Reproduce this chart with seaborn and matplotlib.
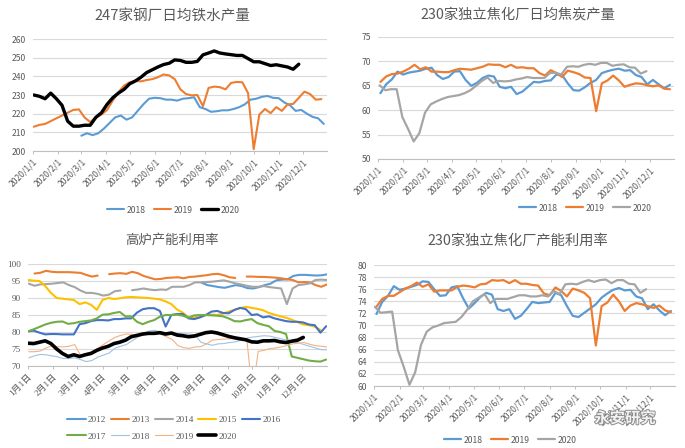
import matplotlib

# 无显示环境，只输出 PNG
matplotlib.use("Agg")

import matplotlib.pyplot as plt  # noqa: E402
import matplotlib.patheffects as pe  # noqa: E402
from matplotlib.lines import Line2D  # noqa: E402
import numpy as np  # noqa: E402
import pandas as pd  # noqa: E402
import seaborn as sns  # noqa: E402

nan = np.nan

# ---------------- 数据（周度，按 2020 年日历对齐） ----------------
iron_title = "247家钢厂日均铁水产量"
iron_2018_start = "2020-03-01"
iron_2018 = [208.2, 209.5, 208.5, 209.5, 212.0, 215.0, 218.0, 219.0, 216.8, 218.0,
             221.5, 225.0, 228.0, 228.5, 228.3, 227.5, 227.5, 227.0, 228.0, 228.3,
             228.8, 223.5, 222.5, 221.0, 221.3, 221.8, 221.8, 222.5, 223.5, 225.0,
             227.5, 228.0, 229.0, 229.5, 228.5, 228.3, 226.0, 224.5, 221.5, 222.0,
             220.0, 218.3, 217.5, 214.5]
iron_2019_start = "2020-01-02"
iron_2019 = [213.0, 214.0, 214.5, 216.0, 217.5, 219.0, 220.5, 222.0, 222.3, 218.0,
             215.5, 218.0, 219.5, 222.0, 227.0, 231.5, 235.0, 236.8, 237.5, 237.3,
             238.0, 238.5, 239.5, 241.0, 240.5, 238.5, 233.0, 230.5, 229.8, 230.0,
             224.0, 233.8, 234.5, 234.2, 233.0, 236.5, 237.0, 236.8, 231.0, 201.0,
             219.5, 222.5, 220.3, 223.5, 221.5, 225.0, 225.2, 228.5, 231.8, 230.5,
             227.5, 227.8]
iron_2020_start = "2020-01-02"
iron_2020 = [230.0, 229.3, 228.0, 231.0, 228.0, 224.5, 216.0, 213.3, 213.3, 213.8,
             213.8, 218.0, 220.5, 225.0, 228.5, 231.0, 233.0, 236.0, 237.5, 239.5,
             242.0, 243.5, 245.0, 246.3, 247.0, 248.8, 248.5, 247.5, 247.5, 248.0,
             251.5, 252.5, 253.6, 252.5, 252.0, 251.6, 251.2, 251.2, 249.5, 247.8,
             247.8, 246.8, 245.8, 246.2, 245.6, 245.0, 243.8, 246.5]

coke_title = "230家独立焦化厂日均焦炭产量"
coke_2018_start = "2020-01-04"
coke_2018 = [63.5, 65.3, 66.3, 67.9, 67.3, 67.7, 67.9, 68.1, 68.5, 68.7,
             67.2, 66.4, 66.8, 67.9, 68.0, 66.2, 65.0, 65.6, 66.6, 67.1,
             66.9, 64.8, 64.5, 64.8, 63.3, 63.8, 64.8, 65.8, 65.7, 66.0,
             66.1, 67.3, 67.2, 65.5, 64.1, 64.0, 64.7, 65.6, 66.2, 67.6,
             68.0, 68.3, 68.5, 68.1, 68.2, 67.2, 66.8, 65.3, 66.2, 65.3,
             64.5, 65.2]
coke_2019_start = "2020-01-04"
coke_2019 = [65.8, 66.9, 67.4, 67.5, 67.9, 68.5, 69.3, 68.4, 68.8, 67.9,
             67.9, 67.8, 67.8, 68.2, 68.5, 68.4, 68.3, 68.6, 68.9, 69.4,
             69.3, 69.3, 68.8, 69.3, 68.7, 68.8, 68.6, 68.6, 67.6, 67.1,
             68.2, 67.6, 66.8, 68.1, 67.8, 67.4, 66.7, 66.6, 59.8, 65.5,
             66.1, 67.1, 66.1, 64.8, 65.2, 65.5, 65.4, 65.1, 64.9, 65.1,
             64.4, 64.3]
coke_2020_start = "2020-01-03"
coke_2020 = [65.1, 64.1, 64.3, 64.3, 58.6, 56.2, 53.6, 55.3, 59.5, 61.2,
             61.8, 62.3, 62.7, 62.9, 63.1, 63.5, 64.1, 65.0, 66.0, 66.7,
             65.6, 66.0, 65.9, 66.0, 66.3, 66.5, 66.8, 66.6, 66.6, 66.6,
             67.6, 67.7, 67.3, 68.9, 69.0, 68.9, 69.3, 69.5, 69.3, 69.7,
             69.7, 69.1, 69.3, 69.4, 68.8, 68.7, 67.5, 68.0]

bf_title = "高炉产能利用率"
bf_years = ["2012", "2013", "2014", "2015", "2016", "2017", "2018", "2019", "2020"]
bf_starts = ["2020-07-31", "2020-01-09", "2020-01-02", "2020-01-01", "2020-01-01",
             "2020-01-01", "2020-01-02", "2020-01-02", "2020-01-01"]
bf_2012 = [94.5, 93.8, 93.5, 93.2, 93.0, 93.4, 93.8, 93.5, 92.9, 92.8,
           93.2, 93.8, 94.2, 95.2, 95.4, 95.5, 96.5, 96.8, 96.8, 96.7,
           96.6, 96.7, 97.0]
bf_2013 = [97.2, 97.4, 98.0, 97.7, 97.6, 97.6, 97.6, 97.5, 97.4, 96.8,
           96.3, 96.6, nan, 97.0, 97.2, 97.3, 97.1, 97.7, 97.3, 96.5,
           96.0, 95.5, 95.6, 95.9, 96.0, 96.1, 95.8, 96.2, 96.3, 96.5,
           96.7, 97.0, 97.1, 96.7, 96.1, 95.9, nan, 96.3, 96.3, 96.2,
           96.2, 96.1, 96.0, 95.8, 95.5, 95.3, 94.6, 94.7, 94.6, 93.8,
           93.3, 94.0]
bf_2014 = [94.2, 93.6, 94.0, 94.1, 94.2, 94.4, 94.6, 93.8, 93.2, 92.2,
           91.5, 91.5, 91.2, 90.7, 91.0, 92.0, 92.2, nan, 92.3, 92.5,
           92.8, 92.5, 92.3, 92.5, 92.4, 93.3, 93.3, 93.3, 93.8, 94.6,
           94.6, 94.7, 94.8, 95.0, 95.2, 94.8, 94.3, 94.0, 93.6, 93.3,
           93.3, 93.5, 93.2, 93.0, 92.8, 88.2, 92.8, 93.8, 94.0, 94.3,
           95.3, 95.4, 95.3]
bf_2015 = [95.3, 95.1, 95.0, 93.5, 91.5, 90.0, 89.8, 89.6, 89.4, 88.2,
           88.7, 88.0, 86.5, 89.4, 90.0, 89.7, 89.9, 90.2, 90.3, 90.2,
           90.1, 90.0, 89.8, 89.6, 89.0, 88.2, 86.6, 85.7, 84.3, 84.2,
           84.8, 85.0, 85.1, 85.0, 85.4, 86.0, 86.5, 87.0, 87.4, 87.1,
           86.8, 86.4, 85.6, 85.1, 84.6, 84.2, 83.6, 82.9, 82.2, 82.0,
           81.6, 80.6]
bf_2016 = [80.2, 80.4, 79.8, 79.3, 79.4, 79.4, 79.3, 79.3, 79.3, 82.3,
           82.6, 83.2, 83.5, 83.5, 83.4, 83.8, 83.8, 84.0, 84.0, 85.7,
           86.7, 87.0, 87.0, 86.2, 81.6, 85.0, 85.3, 85.3, 84.0, 83.8,
           84.3, 85.0, 86.0, 86.2, 85.6, 85.5, 86.5, 87.1, 86.7, 85.0,
           85.2, 84.3, 84.6, 84.0, 83.6, 83.2, 83.0, 83.0, 82.8, 82.2,
           82.0, 79.8, 81.7]
bf_2017 = [80.2, 80.8, 81.5, 82.2, 82.7, 83.0, 83.1, 82.4, 82.6, 83.0,
           83.2, 83.4, 84.0, 85.1, 85.2, 85.6, 85.9, 84.6, 84.6, 83.0,
           82.3, 83.0, 83.5, 84.5, 85.0, 85.0, 85.1, 84.8, 84.2, 84.9,
           85.0, 85.0, 84.9, 84.8, 84.6, 84.0, 83.2, 83.1, 83.5, 83.8,
           82.6, 82.1, 81.7, 80.3, 80.0, 79.4, 72.8, 72.4, 72.0, 71.6,
           71.4, 71.3, 71.9]
bf_2018 = [72.4, 73.0, 73.4, 73.3, 73.0, 72.7, 72.2, 72.2, 72.4, 71.9,
           71.3, 71.6, 72.6, 73.2, 73.8, 75.2, 75.8, 76.3, 77.4, 78.5,
           79.6, 80.3, 80.5, 79.9, 79.8, 79.8, 79.6, 79.5, 79.4, 79.2,
           77.0, 76.5, 76.1, 76.5, 76.6, 76.9, 77.1, 77.6, 78.2, 78.5,
           78.7, 78.9, 78.8, 78.4, 78.0, 77.6, 77.2, 76.8, 76.3, 75.8,
           75.3, 74.8, 74.8]
bf_2019 = [74.2, 74.2, 74.4, 75.3, 75.9, 75.7, 75.6, 75.8, 76.3, 73.2,
           73.6, 74.2, 75.2, 76.3, 77.4, 78.4, 79.0, 79.4, 79.3, 78.6,
           79.2, 79.6, 80.0, 79.4, 78.6, 77.8, 76.0, 75.4, 75.2, 75.6,
           75.7, 76.5, 77.6, 77.8, 77.9, 78.0, 78.1, 78.1, 78.0, 62.0,
           74.3, 74.6, 75.1, 75.3, 75.6, 76.0, 76.5, 76.7, 76.9, 76.4,
           76.0, 75.8, 75.6]
bf_2020 = [76.7, 76.6, 77.0, 77.4, 76.6, 75.0, 73.7, 72.8, 73.3, 72.8,
           73.3, 73.7, 74.6, 75.3, 75.8, 76.6, 77.0, 77.6, 78.6, 79.0,
           79.4, 79.6, 79.6, 79.8, 79.4, 79.7, 79.1, 78.9, 78.6, 78.8,
           79.3, 79.8, 80.0, 79.7, 79.2, 78.7, 78.3, 78.0, 77.7, 77.1,
           77.0, 77.4, 77.4, 77.5, 77.1, 76.9, 77.3, 77.6, 78.4]
bf_values = [bf_2012, bf_2013, bf_2014, bf_2015, bf_2016, bf_2017, bf_2018, bf_2019, bf_2020]

cu_title = "230家独立焦化厂产能利用率"
cu_2018_start = "2020-01-04"
cu_2018 = [71.9, 73.9, 74.9, 76.5, 75.9, 76.1, 76.4, 76.7, 77.3, 77.2,
           76.0, 74.9, 75.0, 76.3, 76.5, 74.5, 72.8, 73.7, 74.7, 75.4,
           75.1, 72.7, 72.4, 72.7, 71.1, 71.6, 72.7, 73.9, 73.7, 73.8,
           73.9, 75.4, 75.0, 73.2, 71.6, 71.4, 72.1, 72.8, 73.5, 74.6,
           75.3, 75.9, 76.2, 75.8, 75.9, 74.8, 74.5, 72.7, 73.5, 72.5,
           71.7, 72.4]
cu_2019_start = "2020-01-04"
cu_2019 = [73.1, 74.4, 74.9, 74.9, 75.5, 76.1, 76.5, 77.1, 76.4, 76.8,
           75.6, 75.8, 75.8, 75.8, 76.4, 76.6, 76.5, 76.3, 76.8, 76.9,
           77.5, 77.4, 77.5, 77.0, 77.5, 76.9, 76.9, 76.7, 76.6, 75.3,
           75.0, 76.3, 75.7, 74.8, 76.1, 75.8, 75.4, 74.5, 66.7, 73.2,
           73.8, 75.1, 74.0, 72.4, 73.3, 73.7, 73.5, 73.2, 72.9, 73.3,
           72.5, 72.2]
cu_2020_start = "2020-01-02"
cu_2020 = [73.1, 72.1, 72.2, 72.3, 65.9, 63.2, 60.2, 62.3, 66.8, 69.0,
           69.7, 70.0, 70.4, 70.5, 70.6, 71.4, 72.6, 74.0, 74.6, 75.2,
           73.7, 74.4, 74.4, 74.4, 74.7, 75.0, 75.0, 74.8, 74.8, 75.0,
           74.8, 75.7, 75.2, 76.8, 76.9, 76.8, 77.2, 77.5, 77.2, 77.5,
           77.6, 77.0, 77.5, 77.5, 76.9, 76.8, 75.4, 76.0]

# 刻度标签
date_labels = ["2020/1/1", "2020/2/1", "2020/3/1", "2020/4/1", "2020/5/1", "2020/6/1",
               "2020/7/1", "2020/8/1", "2020/9/1", "2020/10/1", "2020/11/1", "2020/12/1"]
cn_labels = ["1月1日", "2月1日", "3月1日", "4月1日", "5月1日", "6月1日",
             "7月1日", "8月1日", "9月1日", "10月1日", "11月1日", "12月1日"]
iron_yticks = [200, 210, 220, 230, 240, 250, 260]
coke_yticks = [50, 55, 60, 65, 70, 75]
bf_yticks = [70, 75, 80, 85, 90, 95, 100]
cu_yticks = [60, 62, 64, 66, 68, 70, 72, 74, 76, 78, 80]

# ---------------- 样式 ----------------
BLUE, ORANGE, GRAY = "#5B9BD5", "#ED7D31", "#A5A5A5"
bf_colors = ["#5B9BD5", "#ED7D31", "#A5A5A5", "#FFC000", "#4472C4",
             "#70AD47", "#9DC3E6", "#F4B183", "#000000"]
bf_widths = [1.5, 1.5, 1.5, 1.5, 1.5, 1.5, 0.8, 0.8, 2.6]
TEXT = "#595959"
SANS = ["Noto Sans CJK SC", "DejaVu Sans"]
SERIF = ["Liberation Serif", "Noto Sans CJK SC"]
SANS_SIZE = 6.2
SERIF_SIZE = 6.6

sns.set_theme(style="white")
plt.rcParams["font.family"] = SANS
plt.rcParams["axes.unicode_minus"] = False

AX_START = pd.Timestamp("2020-01-01")
AX_END = pd.Timestamp("2020-12-31")
month_ticks = pd.date_range("2020-01-01", periods=12, freq="MS")


def draw(ax, start, values, color, lw):
    # 周度序列；NaN 处断线
    df = pd.DataFrame({"date": pd.date_range(start, periods=len(values), freq="7D"),
                       "value": values})
    ok = df["value"].notna()
    seg_id = (~ok).cumsum()
    for _, seg in df[ok].groupby(seg_id[ok]):
        sns.lineplot(data=seg, x="date", y="value", ax=ax, color=color,
                     linewidth=lw, estimator=None, sort=False, legend=False)


def style(ax, yticks, xlabels, family, size):
    ax.set_xlim(AX_START, AX_END)
    ax.set_ylim(yticks[0], yticks[-1])
    ax.set_yticks(yticks)
    ax.set_xticks(month_ticks)
    ax.set_xticklabels(xlabels, rotation=45, ha="right", va="top",
                       rotation_mode="anchor")
    ax.set_xlabel("")
    ax.set_ylabel("")
    ax.grid(axis="y", color="#D9D9D9", linewidth=0.8)
    ax.set_axisbelow(True)
    for s in ["top", "right", "left"]:
        ax.spines[s].set_visible(False)
    ax.spines["bottom"].set_color("#BFBFBF")
    ax.spines["bottom"].set_linewidth(0.8)
    ax.tick_params(axis="x", bottom=True, length=2.5, width=0.7, color="#BFBFBF",
                   labelsize=size, labelcolor=TEXT, pad=2)
    ax.tick_params(axis="y", left=False, length=0, labelsize=size,
                   labelcolor=TEXT, pad=5)
    for lab in ax.get_xticklabels() + ax.get_yticklabels():
        lab.set_fontfamily(family)


def legend(fig, colors, widths, labels, xy, ncol, family, size,
           colspace=1.0, rowspace=0.5):
    handles = [Line2D([], [], color=c, linewidth=w) for c, w in zip(colors, widths)]
    fig.legend(handles, labels, loc="center", bbox_to_anchor=xy, ncol=ncol,
               frameon=False, handlelength=2.0, handletextpad=0.25,
               columnspacing=colspace, labelspacing=rowspace, labelcolor=TEXT,
               prop={"family": family, "size": size})


W, H = 685, 448
fig = plt.figure(figsize=(W / 100, H / 100), dpi=100)
fig.patch.set_facecolor("white")


def axes_px(left, top, right, bottom):
    return fig.add_axes([left / W, 1 - bottom / H, (right - left) / W, (bottom - top) / H])


ax1 = axes_px(33, 39, 327, 151)
ax2 = axes_px(378, 37, 674, 159)
ax3 = axes_px(28, 264, 327, 366)
ax4 = axes_px(374, 265, 675, 386)

# 1: 铁水产量
draw(ax1, iron_2018_start, iron_2018, BLUE, 1.5)
draw(ax1, iron_2019_start, iron_2019, ORANGE, 1.5)
draw(ax1, iron_2020_start, iron_2020, "black", 2.4)
style(ax1, iron_yticks, date_labels, SANS, SANS_SIZE)
legend(fig, [BLUE, ORANGE, "black"], [1.5, 1.5, 2.4], ["2018", "2019", "2020"],
       (173 / W, 1 - 210 / H), 3, SANS, SANS_SIZE)

# 2: 焦炭产量
draw(ax2, coke_2018_start, coke_2018, BLUE, 1.6)
draw(ax2, coke_2019_start, coke_2019, ORANGE, 1.6)
draw(ax2, coke_2020_start, coke_2020, GRAY, 1.6)
style(ax2, coke_yticks, date_labels, SANS, SANS_SIZE)
legend(fig, [BLUE, ORANGE, GRAY], [1.6] * 3, ["2018", "2019", "2020"],
       (585 / W, 1 - 208 / H), 3, SANS, SANS_SIZE)

# 3: 高炉产能利用率
for start, vals, c, w in zip(bf_starts, bf_values, bf_colors, bf_widths):
    draw(ax3, start, vals, c, w)
style(ax3, bf_yticks, cn_labels, SERIF, SERIF_SIZE)
# 列优先排列，使第一行为 2012-2016，第二行为 2017-2020
order = [0, 5, 1, 6, 2, 7, 3, 8, 4]
legend(fig, [bf_colors[i] for i in order], [bf_widths[i] for i in order],
       [bf_years[i] for i in order], (174 / W, 1 - 428 / H), 5, SERIF, SERIF_SIZE,
       colspace=0.5, rowspace=0.9)

# 4: 焦化产能利用率
draw(ax4, cu_2018_start, cu_2018, BLUE, 1.6)
draw(ax4, cu_2019_start, cu_2019, ORANGE, 1.6)
draw(ax4, cu_2020_start, cu_2020, GRAY, 1.6)
style(ax4, cu_yticks, date_labels, SANS, SANS_SIZE)
legend(fig, [BLUE, ORANGE, GRAY], [1.6] * 3, ["2018", "2019", "2020"],
       (510 / W, 1 - 440 / H), 3, SANS, SANS_SIZE)

# 标题
for x, y, t, fs in [(172, 16, iron_title, 10.5), (518, 15, coke_title, 10.3),
                    (172, 240, bf_title, 9.6), (518, 241, cu_title, 10.3)]:
    fig.text(x / W, 1 - y / H, t, ha="center", va="center", fontsize=fs, color=TEXT)

# 水印
fig.text(625 / W, 1 - 418 / H, "永安研究", ha="center", va="center", fontsize=11,
         color="#F2F2F2", fontweight="bold",
         path_effects=[pe.withStroke(linewidth=1.4, foreground="#8C8C8C")])

fig.savefig("out.png", dpi=100)
plt.close(fig)
